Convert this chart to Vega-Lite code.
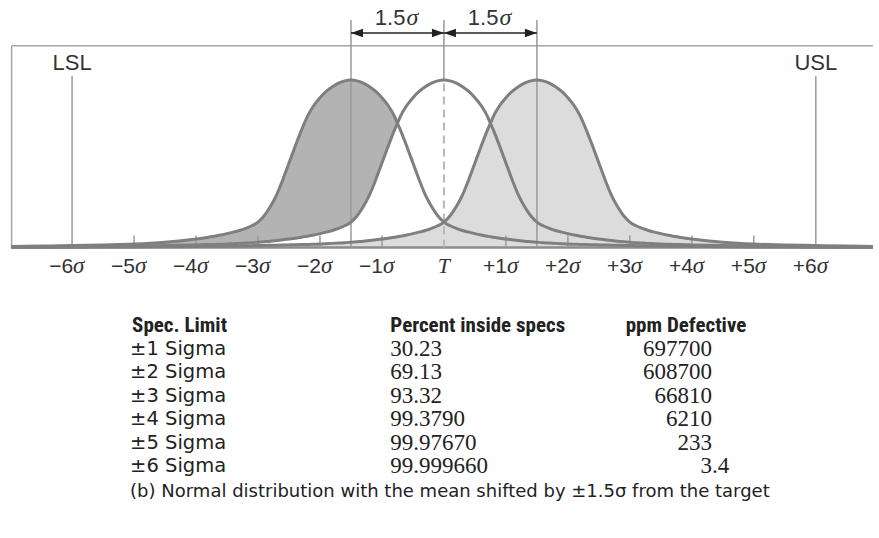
{
  "$schema": "https://vega.github.io/schema/vega-lite/v6.json",
  "width": 879,
  "height": 538,
  "autosize": {"type": "fit", "contains": "padding"},
  "padding": 0,
  "background": "#ffffff",
  "config": {"view": {"stroke": null}, "text": {"font": "Liberation Sans", "color": "#222222"}},
  "datasets": {
    "curves": [
      {"x": -6.98, "l": 0.007, "c": 0.003, "r": 0.0015},
      {"x": -6.5, "l": 0.009, "c": 0.004, "r": 0.002},
      {"x": -6.0, "l": 0.012, "c": 0.005, "r": 0.0025},
      {"x": -5.5, "l": 0.016, "c": 0.007, "r": 0.003},
      {"x": -5.0, "l": 0.021, "c": 0.009, "r": 0.004},
      {"x": -4.5, "l": 0.032, "c": 0.012, "r": 0.005},
      {"x": -4.0, "l": 0.051, "c": 0.016, "r": 0.007},
      {"x": -3.9, "l": 0.056, "c": 0.017, "r": 0.0072},
      {"x": -3.8, "l": 0.062, "c": 0.018, "r": 0.0075},
      {"x": -3.7, "l": 0.068, "c": 0.019, "r": 0.008},
      {"x": -3.6, "l": 0.075, "c": 0.020, "r": 0.0085},
      {"x": -3.5, "l": 0.083, "c": 0.021, "r": 0.009},
      {"x": -3.4, "l": 0.092, "c": 0.023, "r": 0.0095},
      {"x": -3.3, "l": 0.102, "c": 0.025, "r": 0.010},
      {"x": -3.2, "l": 0.114, "c": 0.027, "r": 0.011},
      {"x": -3.1, "l": 0.130, "c": 0.029, "r": 0.0115},
      {"x": -3.0, "l": 0.152, "c": 0.032, "r": 0.012},
      {"x": -2.9, "l": 0.190, "c": 0.035, "r": 0.013},
      {"x": -2.8, "l": 0.245, "c": 0.038, "r": 0.014},
      {"x": -2.7, "l": 0.315, "c": 0.042, "r": 0.0145},
      {"x": -2.6, "l": 0.405, "c": 0.046, "r": 0.015},
      {"x": -2.5, "l": 0.505, "c": 0.051, "r": 0.016},
      {"x": -2.4, "l": 0.605, "c": 0.056, "r": 0.017},
      {"x": -2.3, "l": 0.700, "c": 0.062, "r": 0.018},
      {"x": -2.2, "l": 0.785, "c": 0.068, "r": 0.019},
      {"x": -2.1, "l": 0.848, "c": 0.075, "r": 0.020},
      {"x": -2.0, "l": 0.895, "c": 0.083, "r": 0.021},
      {"x": -1.9, "l": 0.932, "c": 0.092, "r": 0.023},
      {"x": -1.8, "l": 0.960, "c": 0.102, "r": 0.025},
      {"x": -1.7, "l": 0.982, "c": 0.114, "r": 0.027},
      {"x": -1.6, "l": 0.995, "c": 0.130, "r": 0.029},
      {"x": -1.5, "l": 1.000, "c": 0.152, "r": 0.032},
      {"x": -1.4, "l": 0.995, "c": 0.190, "r": 0.035},
      {"x": -1.3, "l": 0.982, "c": 0.245, "r": 0.038},
      {"x": -1.2, "l": 0.960, "c": 0.315, "r": 0.042},
      {"x": -1.1, "l": 0.932, "c": 0.405, "r": 0.046},
      {"x": -1.0, "l": 0.895, "c": 0.505, "r": 0.051},
      {"x": -0.9, "l": 0.848, "c": 0.605, "r": 0.056},
      {"x": -0.8, "l": 0.785, "c": 0.700, "r": 0.062},
      {"x": -0.75, "l": 0.742, "c": 0.742, "r": 0.065},
      {"x": -0.7, "l": 0.700, "c": 0.785, "r": 0.068},
      {"x": -0.6, "l": 0.605, "c": 0.848, "r": 0.075},
      {"x": -0.5, "l": 0.505, "c": 0.895, "r": 0.083},
      {"x": -0.4, "l": 0.405, "c": 0.932, "r": 0.092},
      {"x": -0.3, "l": 0.315, "c": 0.960, "r": 0.102},
      {"x": -0.2, "l": 0.245, "c": 0.982, "r": 0.114},
      {"x": -0.1, "l": 0.190, "c": 0.995, "r": 0.130},
      {"x": 0.0, "l": 0.152, "c": 1.000, "r": 0.152},
      {"x": 0.1, "l": 0.130, "c": 0.995, "r": 0.190},
      {"x": 0.2, "l": 0.114, "c": 0.982, "r": 0.245},
      {"x": 0.3, "l": 0.102, "c": 0.960, "r": 0.315},
      {"x": 0.4, "l": 0.092, "c": 0.932, "r": 0.405},
      {"x": 0.5, "l": 0.083, "c": 0.895, "r": 0.505},
      {"x": 0.6, "l": 0.075, "c": 0.848, "r": 0.605},
      {"x": 0.7, "l": 0.068, "c": 0.785, "r": 0.700},
      {"x": 0.75, "l": 0.065, "c": 0.742, "r": 0.742},
      {"x": 0.8, "l": 0.062, "c": 0.700, "r": 0.785},
      {"x": 0.9, "l": 0.056, "c": 0.605, "r": 0.848},
      {"x": 1.0, "l": 0.051, "c": 0.505, "r": 0.895},
      {"x": 1.1, "l": 0.046, "c": 0.405, "r": 0.932},
      {"x": 1.2, "l": 0.042, "c": 0.315, "r": 0.960},
      {"x": 1.3, "l": 0.038, "c": 0.245, "r": 0.982},
      {"x": 1.4, "l": 0.035, "c": 0.190, "r": 0.995},
      {"x": 1.5, "l": 0.032, "c": 0.152, "r": 1.000},
      {"x": 1.6, "l": 0.029, "c": 0.130, "r": 0.995},
      {"x": 1.7, "l": 0.027, "c": 0.114, "r": 0.982},
      {"x": 1.8, "l": 0.025, "c": 0.102, "r": 0.960},
      {"x": 1.9, "l": 0.023, "c": 0.092, "r": 0.932},
      {"x": 2.0, "l": 0.021, "c": 0.083, "r": 0.895},
      {"x": 2.1, "l": 0.020, "c": 0.075, "r": 0.848},
      {"x": 2.2, "l": 0.019, "c": 0.068, "r": 0.785},
      {"x": 2.3, "l": 0.018, "c": 0.062, "r": 0.700},
      {"x": 2.4, "l": 0.017, "c": 0.056, "r": 0.605},
      {"x": 2.5, "l": 0.016, "c": 0.051, "r": 0.505},
      {"x": 2.6, "l": 0.015, "c": 0.046, "r": 0.405},
      {"x": 2.7, "l": 0.0145, "c": 0.042, "r": 0.315},
      {"x": 2.8, "l": 0.014, "c": 0.038, "r": 0.245},
      {"x": 2.9, "l": 0.013, "c": 0.035, "r": 0.190},
      {"x": 3.0, "l": 0.012, "c": 0.032, "r": 0.152},
      {"x": 3.1, "l": 0.0115, "c": 0.029, "r": 0.130},
      {"x": 3.2, "l": 0.011, "c": 0.027, "r": 0.114},
      {"x": 3.3, "l": 0.010, "c": 0.025, "r": 0.102},
      {"x": 3.4, "l": 0.0095, "c": 0.023, "r": 0.092},
      {"x": 3.5, "l": 0.009, "c": 0.021, "r": 0.083},
      {"x": 3.6, "l": 0.0085, "c": 0.020, "r": 0.075},
      {"x": 3.7, "l": 0.008, "c": 0.019, "r": 0.068},
      {"x": 3.8, "l": 0.0075, "c": 0.018, "r": 0.062},
      {"x": 3.9, "l": 0.0072, "c": 0.017, "r": 0.056},
      {"x": 4.0, "l": 0.007, "c": 0.016, "r": 0.051},
      {"x": 4.5, "l": 0.005, "c": 0.012, "r": 0.032},
      {"x": 5.0, "l": 0.004, "c": 0.009, "r": 0.021},
      {"x": 5.5, "l": 0.003, "c": 0.007, "r": 0.016},
      {"x": 6.0, "l": 0.0025, "c": 0.005, "r": 0.012},
      {"x": 6.5, "l": 0.002, "c": 0.004, "r": 0.009},
      {"x": 6.92, "l": 0.0015, "c": 0.003, "r": 0.007}
    ],
    "ticks": [
      {"v": -6, "num": "−6"}, {"v": -5, "num": "−5"}, {"v": -4, "num": "−4"},
      {"v": -3, "num": "−3"}, {"v": -2, "num": "−2"}, {"v": -1, "num": "−1"},
      {"v": 1, "num": "+1"}, {"v": 2, "num": "+2"}, {"v": 3, "num": "+3"},
      {"v": 4, "num": "+4"}, {"v": 5, "num": "+5"}, {"v": 6, "num": "+6"}
    ],
    "limits": [{"pos": -6, "name": "LSL"}, {"pos": 6, "name": "USL"}],
    "shifts": [{"pos": -1.5}, {"pos": 1.5}],
    "arrows": [
      {"from": -1.5, "to": 0, "mid": -0.75, "label": "1.5"},
      {"from": 0, "to": 1.5, "mid": 0.75, "label": "1.5"}
    ],
    "table": [
      {"row": 1, "limit": "±1 Sigma", "pct": "30.23", "ppm": "697700", "ppmDec": ""},
      {"row": 2, "limit": "±2 Sigma", "pct": "69.13", "ppm": "608700", "ppmDec": ""},
      {"row": 3, "limit": "±3 Sigma", "pct": "93.32", "ppm": "66810", "ppmDec": ""},
      {"row": 4, "limit": "±4 Sigma", "pct": "99.3790", "ppm": "6210", "ppmDec": ""},
      {"row": 5, "limit": "±5 Sigma", "pct": "99.97670", "ppm": "233", "ppmDec": ""},
      {"row": 6, "limit": "±6 Sigma", "pct": "99.999660", "ppm": "3", "ppmDec": ".4"}
    ],
    "one": [{}]
  },
  "resolve": {"scale": {"y": "independent"}},
  "layer": [
    {
      "layer": [
        {
          "data": {"name": "curves"},
          "mark": {"type": "area", "color": "#dcdcdc", "opacity": 1, "interpolate": "monotone"},
          "encoding": {
            "x": {"field": "x", "type": "quantitative", "scale": {"domain": [-7.163, 6.923], "nice": false, "zero": false}, "axis": null},
            "y": {"field": "r", "type": "quantitative", "scale": {"domain": [-1.734, 1.478], "nice": false, "zero": false}, "axis": null},
            "y2": {"datum": 0}
          }
        },
        {
          "data": {"name": "curves"},
          "transform": [{"filter": "datum.x <= -0.75"}],
          "mark": {"type": "area", "color": "#b3b3b3", "opacity": 1, "interpolate": "monotone"},
          "encoding": {
            "x": {"field": "x", "type": "quantitative"},
            "y": {"field": "l", "type": "quantitative"},
            "y2": {"field": "c"}
          }
        },
        {
          "data": {"name": "one"},
          "mark": {"type": "rule", "color": "#8c8c8c", "strokeWidth": 2.5},
          "encoding": {"x": {"datum": -6.976}, "x2": {"datum": 6.923}, "y": {"datum": 0}}
        },
        {
          "data": {"name": "one"},
          "mark": {"type": "rule", "color": "#a6a6a6", "strokeWidth": 1.5},
          "encoding": {"x": {"datum": -6.976}, "y": {"datum": 0}, "y2": {"datum": 1.205}}
        },
        {
          "data": {"name": "one"},
          "mark": {"type": "rule", "color": "#a6a6a6", "strokeWidth": 1.5},
          "encoding": {"x": {"datum": -6.976}, "x2": {"datum": 6.923}, "y": {"datum": 1.205}}
        },
        {
          "data": {"name": "limits"},
          "mark": {"type": "rule", "color": "#9a9a9a", "strokeWidth": 1.5},
          "encoding": {"x": {"field": "pos", "type": "quantitative"}, "y": {"datum": 0}, "y2": {"datum": 1.024}}
        },
        {
          "data": {"name": "shifts"},
          "mark": {"type": "rule", "color": "#9a9a9a", "strokeWidth": 1.5},
          "encoding": {"x": {"field": "pos", "type": "quantitative"}, "y": {"datum": 0}, "y2": {"datum": 1.358}}
        },
        {
          "data": {"name": "one"},
          "mark": {"type": "rule", "color": "#9a9a9a", "strokeWidth": 1.5},
          "encoding": {"x": {"datum": 0}, "y": {"datum": 1.0}, "y2": {"datum": 1.358}}
        },
        {
          "data": {"name": "one"},
          "mark": {"type": "rule", "color": "#b8b8b8", "strokeWidth": 2, "strokeDash": [8, 5]},
          "encoding": {"x": {"datum": 0}, "y": {"datum": 0}, "y2": {"datum": 1.0}}
        },
        {
          "data": {"name": "ticks"},
          "transform": [{"filter": "abs(datum.v) < 6"}],
          "mark": {"type": "rule", "color": "#9a9a9a", "strokeWidth": 1.5},
          "encoding": {"x": {"field": "v", "type": "quantitative"}, "y": {"datum": 0}, "y2": {"datum": 0.072}}
        },
        {
          "data": {"name": "curves"},
          "mark": {"type": "line", "color": "#7f7f7f", "strokeWidth": 3, "interpolate": "monotone"},
          "encoding": {"x": {"field": "x", "type": "quantitative"}, "y": {"field": "l", "type": "quantitative"}}
        },
        {
          "data": {"name": "curves"},
          "mark": {"type": "line", "color": "#7f7f7f", "strokeWidth": 3, "interpolate": "monotone"},
          "encoding": {"x": {"field": "x", "type": "quantitative"}, "y": {"field": "c", "type": "quantitative"}}
        },
        {
          "data": {"name": "curves"},
          "mark": {"type": "line", "color": "#7f7f7f", "strokeWidth": 3, "interpolate": "monotone"},
          "encoding": {"x": {"field": "x", "type": "quantitative"}, "y": {"field": "r", "type": "quantitative"}}
        },
        {
          "data": {"name": "ticks"},
          "mark": {"type": "text", "align": "right", "baseline": "alphabetic", "dx": 1, "fontSize": 21, "font": "Liberation Sans", "color": "#333333"},
          "encoding": {"x": {"field": "v", "type": "quantitative"}, "y": {"datum": -0.154}, "text": {"field": "num"}}
        },
        {
          "data": {"name": "ticks"},
          "mark": {"type": "text", "align": "left", "baseline": "alphabetic", "dx": 1, "fontSize": 23, "font": "Liberation Serif", "fontStyle": "italic", "color": "#333333", "text": "σ"},
          "encoding": {"x": {"field": "v", "type": "quantitative"}, "y": {"datum": -0.154}}
        },
        {
          "data": {"name": "one"},
          "mark": {"type": "text", "align": "center", "baseline": "alphabetic", "fontSize": 22, "font": "Liberation Serif", "fontStyle": "italic", "color": "#333333", "text": "T"},
          "encoding": {"x": {"datum": 0}, "y": {"datum": -0.154}}
        },
        {
          "data": {"name": "limits"},
          "mark": {"type": "text", "align": "center", "baseline": "alphabetic", "fontSize": 22, "font": "Liberation Sans", "color": "#333333"},
          "encoding": {"x": {"field": "pos", "type": "quantitative"}, "y": {"datum": 1.06}, "text": {"field": "name"}}
        },
        {
          "data": {"name": "arrows"},
          "mark": {"type": "rule", "color": "#222222", "strokeWidth": 1.5},
          "encoding": {"x": {"field": "from", "type": "quantitative"}, "x2": {"field": "to"}, "y": {"datum": 1.281}}
        },
        {
          "data": {"name": "arrows"},
          "mark": {"type": "point", "shape": "M0,0L2,-0.7L2,0.7Z", "filled": true, "size": 144, "color": "#222222", "opacity": 1, "strokeWidth": 0},
          "encoding": {"x": {"field": "from", "type": "quantitative"}, "y": {"datum": 1.281}}
        },
        {
          "data": {"name": "arrows"},
          "mark": {"type": "point", "shape": "M0,0L-2,-0.7L-2,0.7Z", "filled": true, "size": 144, "color": "#222222", "opacity": 1, "strokeWidth": 0},
          "encoding": {"x": {"field": "to", "type": "quantitative"}, "y": {"datum": 1.281}}
        },
        {
          "data": {"name": "arrows"},
          "mark": {"type": "text", "align": "right", "baseline": "alphabetic", "dx": 8, "fontSize": 22, "font": "Liberation Sans", "color": "#333333"},
          "encoding": {"x": {"field": "mid", "type": "quantitative"}, "y": {"datum": 1.328}, "text": {"field": "label"}}
        },
        {
          "data": {"name": "arrows"},
          "mark": {"type": "text", "align": "left", "baseline": "alphabetic", "dx": 9, "fontSize": 24, "font": "Liberation Serif", "fontStyle": "italic", "color": "#333333", "text": "σ"},
          "encoding": {"x": {"field": "mid", "type": "quantitative"}, "y": {"datum": 1.328}}
        }
      ]
    },
    {
      "layer": [
        {
          "data": {"name": "table"},
          "mark": {"type": "text", "align": "left", "baseline": "middle", "fontSize": 19.5, "font": "DejaVu Sans", "color": "#222222"},
          "encoding": {
            "x": {"datum": -5.064},
            "y": {"field": "row", "type": "quantitative", "scale": {"domain": [-13.915, 9.077], "reverse": true, "nice": false, "zero": false}, "axis": null},
            "text": {"field": "limit"}
          }
        },
        {
          "data": {"name": "table"},
          "mark": {"type": "text", "align": "left", "baseline": "middle", "fontSize": 23, "font": "Liberation Serif", "color": "#222222"},
          "encoding": {"x": {"datum": -0.865}, "y": {"field": "row", "type": "quantitative"}, "text": {"field": "pct"}}
        },
        {
          "data": {"name": "table"},
          "mark": {"type": "text", "align": "right", "baseline": "middle", "fontSize": 23, "font": "Liberation Serif", "color": "#222222"},
          "encoding": {"x": {"datum": 4.327}, "y": {"field": "row", "type": "quantitative"}, "text": {"field": "ppm"}}
        },
        {
          "data": {"name": "table"},
          "mark": {"type": "text", "align": "left", "baseline": "middle", "fontSize": 23, "font": "Liberation Serif", "color": "#222222"},
          "encoding": {"x": {"datum": 4.327}, "y": {"field": "row", "type": "quantitative"}, "text": {"field": "ppmDec"}}
        },
        {
          "data": {"name": "one"},
          "mark": {"type": "text", "align": "left", "baseline": "middle", "fontSize": 21, "fontWeight": "bold", "font": "Liberation Sans Narrow, Roboto Condensed, DejaVu Sans Condensed, Liberation Sans", "color": "#222222", "text": "Spec. Limit"},
          "encoding": {"x": {"datum": -5.032}, "y": {"datum": 0}}
        },
        {
          "data": {"name": "one"},
          "mark": {"type": "text", "align": "left", "baseline": "middle", "fontSize": 21, "fontWeight": "bold", "font": "Liberation Sans Narrow, Roboto Condensed, DejaVu Sans Condensed, Liberation Sans", "color": "#222222", "text": "Percent inside specs"},
          "encoding": {"x": {"datum": -0.865}, "y": {"datum": 0}}
        },
        {
          "data": {"name": "one"},
          "mark": {"type": "text", "align": "left", "baseline": "middle", "fontSize": 21, "fontWeight": "bold", "font": "Liberation Sans Narrow, Roboto Condensed, DejaVu Sans Condensed, Liberation Sans", "color": "#222222", "text": "ppm Defective"},
          "encoding": {"x": {"datum": 2.933}, "y": {"datum": 0}}
        },
        {
          "data": {"name": "one"},
          "mark": {"type": "text", "align": "center", "baseline": "middle", "fontSize": 18, "font": "DejaVu Sans", "color": "#222222", "text": "(b) Normal distribution with the mean shifted by ±1.5σ from the target"},
          "encoding": {"x": {"datum": 0.096}, "y": {"datum": 7.11}}
        }
      ]
    }
  ]
}
